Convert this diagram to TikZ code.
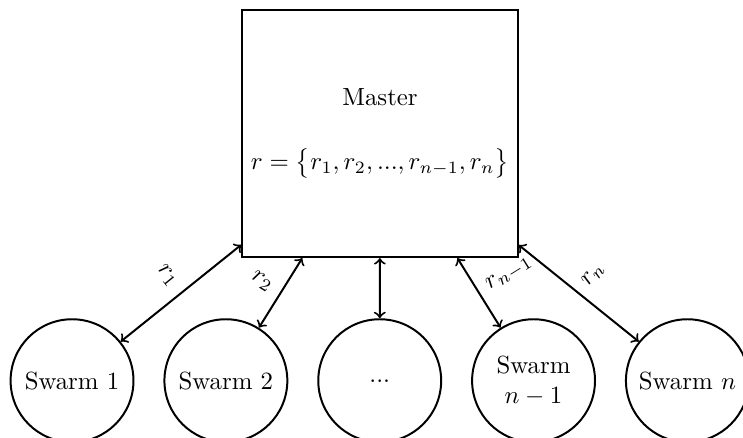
\documentclass[tikz,border=0pt]{standalone}
\usepackage{amsmath}
\usetikzlibrary{positioning}

\begin{document}
\begin{tikzpicture}[
  node distance=4.1mm,
  master/.style={draw, thick, minimum width=3.9cm, minimum height=3.5cm, align=center, inner sep=1pt},
  swarm/.style={draw, thick, circle, minimum size=1.74cm, inner sep=0pt, align=center},
  link/.style={<->, thick},
  lbl/.style={inner sep=4pt}
]
\useasboundingbox (0,0) rectangle (10.52,6.20);
\node[master] (m) at (5.38,4.31) {Master\\[14pt]$r=\big\{r_1, r_2, ..., r_{n-1}, r_n\big\}$};
\node[swarm] (s1) at (1.02,0.81) {Swarm 1};
\node[swarm, right=of s1] (s2) {Swarm 2};
\node[swarm, right=of s2] (s3) {...};
\node[swarm, right=of s3] (s4) {Swarm\\$n-1$};
\node[swarm, right=of s4] (s5) {Swarm $n$};
\draw[link] (s1) -- node[lbl, rotate=-51, anchor=east] {$r_1$} (m);
\draw[link] (s2) -- node[lbl, rotate=-32, anchor=east] {$r_2$} (m);
\draw[link] (s3) -- (m);
\draw[link] (s4) -- node[lbl, rotate=32, anchor=west] {$r_{n-1}$} (m);
\draw[link] (s5) -- node[lbl, rotate=51, anchor=west] {$r_n$} (m);
\end{tikzpicture}
\end{document}
